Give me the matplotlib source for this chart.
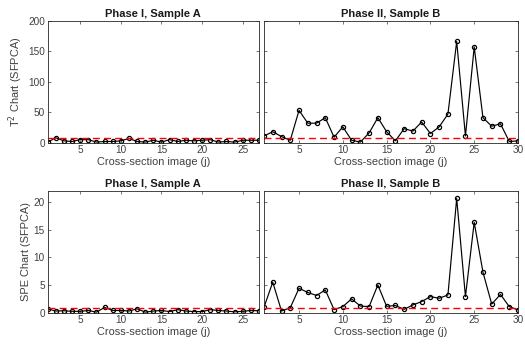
import matplotlib
matplotlib.use("Agg")
import matplotlib.pyplot as plt
import numpy as np

plt.rcParams['font.family'] = ['Liberation Sans', 'DejaVu Sans']

# Phase I, Sample A (j = 1..27)
t2_phase1 = [1, 8, 3, 2, 5, 5, 1, 2, 2, 3, 7, 2, 1, 4, 1, 5, 2, 4, 3, 4, 5, 1, 2, 1, 4, 4, 4]
spe_phase1 = [0.7, 0.3, 0.35, 0.25, 0.25, 0.4, 0.1, 0.95, 0.4, 0.4, 0.3, 0.7, 0.1, 0.3,
              0.4, 0.2, 0.55, 0.3, 0.2, 0.2, 0.55, 0.4, 0.3, 0.15, 0.25, 0.4, 0.35]
# Phase II, Sample B (j = 1..30)
t2_phase2 = [11, 18, 10, 4, 53, 32, 32, 41, 9, 26, 4, 1, 16, 41, 18, 3, 23, 19, 34, 15,
             26, 47, 166, 11, 157, 41, 27, 31, 2, 3]
spe_phase2 = [1.0, 5.5, 0.3, 0.9, 4.4, 3.65, 3.1, 4.1, 0.55, 1.1, 2.5, 1.2, 1.1, 5.0, 1.15,
              1.3, 0.6, 1.4, 2.0, 2.9, 2.6, 3.2, 20.6, 2.9, 16.3, 7.3, 1.55, 3.3, 1.1, 0.5]
t2_limit = 8.5
spe_limit = 0.9

titles = ["Phase I, Sample A", "Phase II, Sample B"]
xlabel = "Cross-section image (j)"
ylabels = ["T$^2$ Chart (SFPCA)", "SPE Chart (SFPCA)"]
yticks_t2 = [0, 50, 100, 150, 200]
yticks_spe = [0, 5, 10, 15, 20]

fig = plt.figure(figsize=(5.25, 3.54), dpi=100)
W, H = 525, 354
def ax_at(x0, x1, y0, y1):
    return fig.add_axes([x0 / W, 1 - y1 / H, (x1 - x0) / W, (y1 - y0) / H])

axes = [[ax_at(47.7, 259, 20.7, 142.7), ax_at(264, 518, 20.7, 142.7)],
        [ax_at(47.7, 259, 190.7, 312.7), ax_at(264, 518, 190.7, 312.7)]]

data = [[t2_phase1, t2_phase2], [spe_phase1, spe_phase2]]
limits = [t2_limit, spe_limit]
ylims = [(0, 200), (0, 22)]
yticks = [yticks_t2, yticks_spe]
xticks = [[5, 10, 15, 20, 25], [5, 10, 15, 20, 25, 30]]

tc = '#404040'
for r in range(2):
    for c in range(2):
        ax = axes[r][c]
        vals = data[r][c]
        j = np.arange(1, len(vals) + 1)
        ax.plot(j, vals, '-o', color='black', lw=0.85, ms=3.0, mfc='none', mew=0.9)
        ax.axhline(limits[r], color='#ff0000', lw=1.0, ls=(0, (5, 3)))
        ax.set_xlim(1, len(vals))
        ax.set_ylim(*ylims[r])
        ax.set_xticks(xticks[c])
        ax.set_yticks(yticks[r])
        ax.tick_params(direction='in', length=2.5, width=0.5, top=True, right=True,
                       labelsize=7.2, colors=tc, pad=2)
        for s in ax.spines.values():
            s.set_linewidth(0.6)
            s.set_color('#262626')
        ax.set_title(titles[c], fontsize=8, fontweight='bold', color='#1a1a1a', pad=3)
        ax.set_xlabel(xlabel, fontsize=7.9, color=tc, labelpad=1)
        if c == 0:
            ax.set_ylabel(ylabels[r], fontsize=7.9, color=tc, labelpad=2)
        else:
            ax.set_yticklabels([])

fig.savefig("out.png", dpi=100)
